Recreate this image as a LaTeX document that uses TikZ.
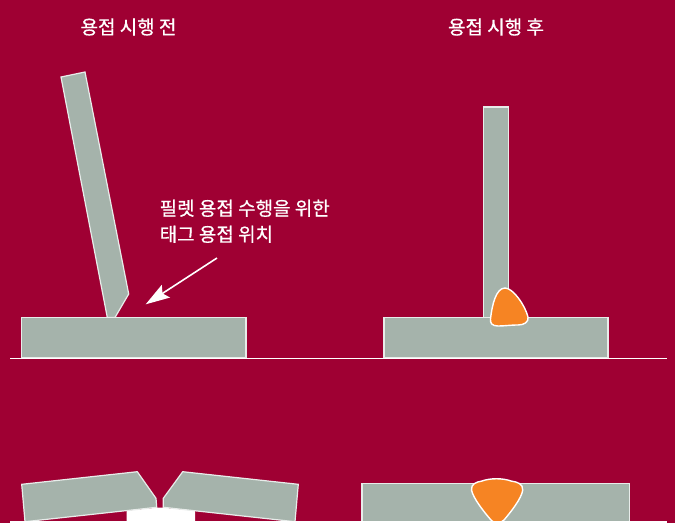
\documentclass[tikz,border=0pt]{standalone}
\usepackage{fontspec}
\usepackage{tikz}
\usetikzlibrary{arrows.meta}
\newfontfamily\krfont[FakeBold=0.7]{Noto Sans CJK KR}
\definecolor{weldred}{HTML}{9F0033}
\definecolor{plategray}{HTML}{A5B3AB}
\definecolor{weldorange}{HTML}{F68423}
\tikzset{
    plate/.style={draw=white!75!plategray,line width=1.2pt,fill=plategray,line join=miter},
    bead/.style={draw=white,line width=1.4pt,fill=weldorange},
    floorline/.style={draw=white,line width=1.7pt},
    caption/.style={text=white,font=\krfont\fontsize{19}{26}\selectfont,inner sep=0pt},
}
\begin{document}
\begin{tikzpicture}[x=1pt,y=-1pt]
\useasboundingbox[fill=weldred] (0,0) rectangle (675,523);
\node[caption] (before) at (128.5,27) {용접 시행 전};
\node[caption] (after) at (496,27) {용접 시행 후};
\node[caption,align=left,anchor=north west] (taglabel) at (159.5,199.5) {필렛 용접 수행을 위한\\태그 용접 위치};
% upper row, tee joint
\draw[plate] (61,77) -- (85,72) -- (128.7,294) -- (115,317.5) -- (107.3,317.5) -- cycle;
\draw[plate] (21.5,317.5) rectangle (246,358);
\draw[plate] (483.5,107) rectangle (508.5,318);
\draw[plate] (384,317.5) rectangle (608,358);
\draw[bead] (490.5,319) .. controls (492,305) and (496,288) .. (505,288) .. controls (513,288) and (525,305) .. (528,317)
    .. controls (529,322) and (524,325) .. (518,325) .. controls (510,325) and (505,326) .. (498,326)
    .. controls (492,326) and (490,323) .. (490.5,319) -- cycle;
\coordinate (tagstart) at (217,258);
\coordinate (tagtip) at (145.7,304.3);
\draw[white,line width=1.6pt,-{Stealth[length=24pt,width=15pt,inset=4pt]}] (tagstart) -- (tagtip);
\draw[floorline] (10,358.5) -- (667,358.5);
% lower row, butt joint
\fill[white] (126.7,523) -- (126.7,510.7) -- (157,507.7) -- (163,507.7) -- (195,510.7) -- (195,523) -- cycle;
\draw[plate] (21.7,484.3) -- (137.3,471.7) -- (156,498.3) -- (156.7,507.3) -- (25,521.7) -- cycle;
\draw[plate] (298.3,484.3) -- (182.7,471.7) -- (163.3,498.3) -- (163.3,507.3) -- (295,521.7) -- cycle;
\draw[plate] (362,483.5) rectangle (629.5,522);
\draw[bead] (471.5,490) .. controls (471,484) and (476,482) .. (482,481) .. controls (490,478) and (503,478) .. (511,481)
    .. controls (518,482) and (523,484) .. (522.7,490) .. controls (522,498) and (510,513) .. (504,520)
    .. controls (500,524) and (494,524) .. (491,520) .. controls (484,512) and (473,498) .. (471.5,490) -- cycle;
\draw[floorline] (10,522.3) -- (667,522.3);
\end{tikzpicture}
\end{document}
